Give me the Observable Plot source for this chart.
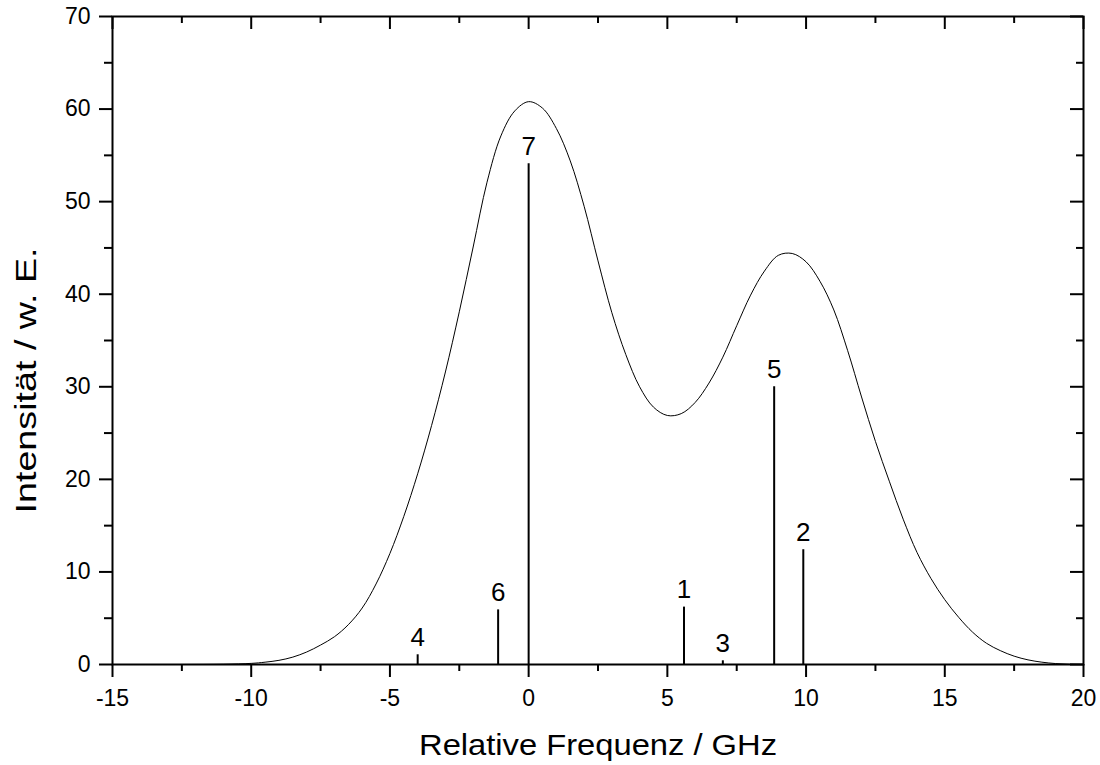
<!DOCTYPE html>
<html><head><meta charset="utf-8">
<script src="https://cdn.jsdelivr.net/npm/d3@7"></script>
<script src="https://cdn.jsdelivr.net/npm/@observablehq/plot@0.6"></script>
<style>html,body{margin:0;padding:0;background:#fff;} svg{display:block;}</style>
</head><body><div id="chart"></div>
<script>
// Envelope curve
const curveFreq = [-15, -12.5, -11, -10, -9.5, -9, -8.5, -8, -7.5, -7, -6.5, -6, -5.5, -5, -4.5, -4, -3.5, -3, -2.5, -2, -1.5, -1, -0.5, 0, 0.5, 1, 1.5, 2, 2.5, 3, 3.5, 4, 4.5, 5, 5.5, 6, 6.5, 7, 7.5, 8, 8.5, 9, 9.5, 10, 10.5, 11, 11.5, 12, 12.5, 13, 13.5, 14, 14.5, 15, 15.5, 16, 16.5, 17, 17.5, 18, 18.5, 19, 19.5, 20];
const curveInt  = [0, 0.0, 0.03, 0.12, 0.25, 0.45, 0.8, 1.35, 2.1, 3.0, 4.3, 6.1, 8.7, 12.0, 16.0, 20.6, 25.8, 31.6, 38.1, 45.1, 52.1, 57.1, 59.8, 60.8, 60.1, 57.9, 54.4, 49.5, 43.6, 38.0, 33.5, 30.0, 27.8, 26.9, 27.1, 28.3, 30.4, 33.2, 36.6, 39.9, 42.5, 44.2, 44.4, 43.5, 41.4, 38.3, 33.9, 28.9, 24.1, 19.8, 15.7, 12.1, 9.3, 7.0, 5.1, 3.5, 2.3, 1.5, 0.9, 0.5, 0.25, 0.1, 0.03, 0];

// Stick spectrum
const lineLabels = ["4", "6", "7", "1", "3", "5", "2"];
const lineFreq   = [-4.0, -1.1, 0.0, 5.6, 7.0, 8.85, 9.9];
const lineInt    = [1.05, 5.9, 54.1, 6.2, 0.4, 30.0, 12.4];

// Axes
const xMajor = [-15, -10, -5, 0, 5, 10, 15, 20];
const xMinor = [-12.5, -7.5, -2.5, 2.5, 7.5, 12.5, 17.5];
const yMajor = [0, 10, 20, 30, 40, 50, 60, 70];
const yMinor = [5, 15, 25, 35, 45, 55, 65];
const xTitle = "Relative Frequenz / GHz";
const yTitle = "Intensität / w. E.";

const curve = curveFreq.map((f, i) => ({f, v: curveInt[i]}));
const lines = lineFreq.map((f, i) => ({f, v: lineInt[i], label: lineLabels[i]}));

const W = 1100, H = 765, mL = 112, mR = 17, mT = 16, mB = 101;
const pw = W - mL - mR, ph = H - mT - mB;
const font = "'Liberation Sans', Arial, Helvetica, sans-serif";
const fmt = d => String(d);

const chart = Plot.plot({
  width: W, height: H,
  marginLeft: mL, marginRight: mR, marginTop: mT, marginBottom: mB,
  style: {fontFamily: font, background: "white", color: "black", overflow: "visible"},
  x: {domain: [-15, 20]},
  y: {domain: [0, 70]},
  marks: [
    Plot.line(curve, {x: "f", y: "v", stroke: "black", strokeWidth: 1, curve: "catmull-rom"}),
    Plot.ruleX(lines, {x: "f", y: "v", stroke: "black", strokeWidth: 2}),
    Plot.text(lines, {x: "f", y: "v", text: "label", dy: -9, lineAnchor: "bottom", fontSize: 26, fill: "black"}),
    Plot.frame({stroke: "black", strokeWidth: 2}),
    Plot.axisX(xMajor, {anchor: "bottom", tickSize: 13, tickPadding: 12, strokeWidth: 2, fontSize: 23, tickFormat: fmt, label: null}),
    Plot.axisX(xMinor, {anchor: "bottom", tickSize: 7, strokeWidth: 2, tickFormat: () => "", label: null}),
    Plot.axisY(yMajor, {anchor: "left", tickSize: 13, tickPadding: 9, strokeWidth: 2, fontSize: 23, tickFormat: fmt, label: null}),
    Plot.axisY(yMinor, {anchor: "left", tickSize: 8, strokeWidth: 2, tickFormat: () => "", label: null}),
    // inward ticks on top and right
    Plot.tickX(xMajor, {x: d => d, insetBottom: ph - 13, stroke: "black", strokeWidth: 2}),
    Plot.tickX(xMinor, {x: d => d, insetBottom: ph - 7, stroke: "black", strokeWidth: 2}),
    Plot.tickY(yMajor, {y: d => d, insetLeft: pw - 13, stroke: "black", strokeWidth: 2}),
    Plot.tickY(yMinor, {y: d => d, insetLeft: pw - 7, stroke: "black", strokeWidth: 2}),
    // titles
    Plot.text([xTitle], {frameAnchor: "bottom", textAnchor: "middle", dy: 81, fontSize: 29, lineAnchor: "middle", fill: "black"}),
    Plot.text([yTitle], {frameAnchor: "left", textAnchor: "middle", rotate: -90, dx: -86, dy: 40, fontSize: 29, lineAnchor: "middle", fill: "black"})
  ]
});
// match the stretched lettering of the original titles
d3.select(chart).selectAll("text")
  .filter(function() { return this.textContent === xTitle; })
  .attr("textLength", 358).attr("lengthAdjust", "spacingAndGlyphs");
d3.select(chart).selectAll("text")
  .filter(function() { return this.textContent === yTitle; })
  .attr("textLength", 266).attr("lengthAdjust", "spacingAndGlyphs");
document.getElementById("chart").appendChild(chart);
</script>
</body></html>
